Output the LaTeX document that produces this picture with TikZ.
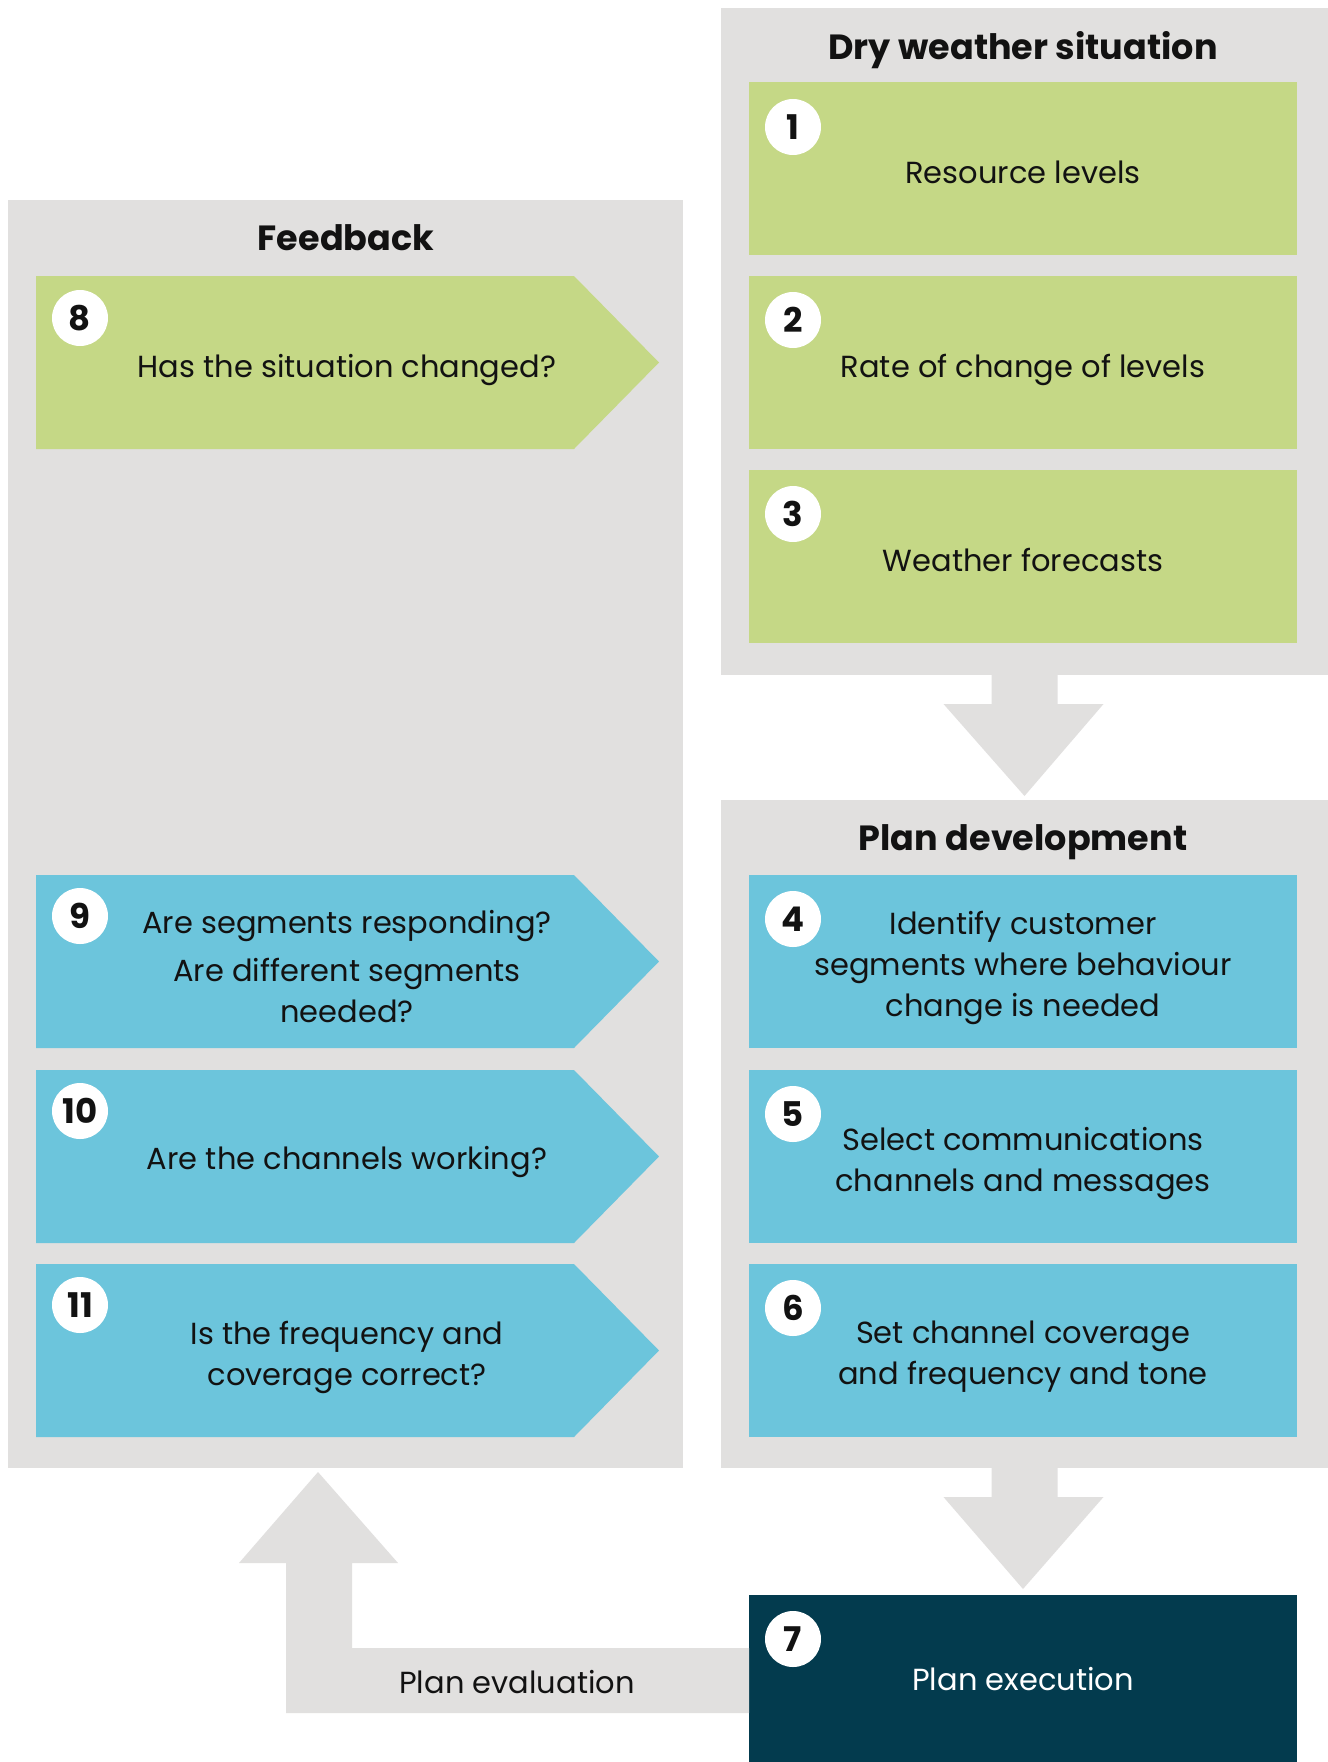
\documentclass[tikz,border=0pt]{standalone}
\usepackage{fontspec}
\setmainfont{Poppins}
\usetikzlibrary{calc}
\definecolor{panelgray}{HTML}{E1E0DF}
\definecolor{leafgreen}{HTML}{C5D886}
\definecolor{skyblue}{HTML}{6CC5DC}
\definecolor{deepteal}{HTML}{033B4E}
\definecolor{ink}{HTML}{121212}
\begin{document}
\begin{tikzpicture}[x=1pt,y=-1pt,
  panel/.style={fill=panelgray, draw=none, anchor=north west, inner sep=0pt, outer sep=0pt},
  rbox/.style={draw=none, anchor=north west, inner sep=0pt, outer sep=0pt, minimum width=548pt, minimum height=173pt},
  greenbox/.style={rbox, fill=leafgreen},
  bluebox/.style={rbox, fill=skyblue},
  darkbox/.style={rbox, fill=deepteal},
  numdot/.style={circle, fill=white, draw=none, minimum size=56pt, inner sep=0pt, font=\fontsize{34}{34}\selectfont\bfseries, text=ink},
  label/.style={align=center, text=ink, inner sep=0pt, text depth=0pt, font=\fontsize{30.5}{41}\selectfont},
  heading/.style={text=ink, inner sep=0pt, text depth=0pt, font=\fontsize{35}{40}\selectfont\bfseries},
  blockarrow/.style={fill=panelgray, draw=none}
]
\useasboundingbox (0,0) rectangle (1328,1762);
\fill[white] (0,0) rectangle (1328,1762);

% panels
\node[panel, minimum width=607pt, minimum height=667pt] (dry) at (721,8) {};
\node[panel, minimum width=607pt, minimum height=668pt] (plan) at (721,800) {};
\node[panel, minimum width=675pt, minimum height=1268pt] (fb) at (8,200) {};

\node[heading] (drytitle) at (1023,45) {Dry weather situation};
\node[heading] (plantitle) at (1023,838) {Plan development};
\node[heading] (fbtitle) at (346,238) {Feedback};

% right column boxes
\node[greenbox] (b1) at (749,82) {};
\node[greenbox] (b2) at (749,276) {};
\node[greenbox] (b3) at (749,470) {};
\node[bluebox] (b4) at (749,875) {};
\node[bluebox] (b5) at (749,1070) {};
\node[bluebox] (b6) at (749,1264) {};
\node[darkbox, minimum height=170pt] (b7) at (749,1595) {};

% feedback pentagons
\fill[leafgreen] (36,276) -- (574,276) -- (659,362.5) -- (574,449) -- (36,449) -- cycle;
\fill[skyblue] (36,875) -- (574,875) -- (659,961.5) -- (574,1048) -- (36,1048) -- cycle;
\fill[skyblue] (36,1070) -- (574,1070) -- (659,1156.5) -- (574,1243) -- (36,1243) -- cycle;
\fill[skyblue] (36,1264) -- (574,1264) -- (659,1350.5) -- (574,1437) -- (36,1437) -- cycle;

% block arrows
\fill[blockarrow] ($(dry.south)+(-33,0)$) -- ($(dry.south)+(33,0)$) -- ($(dry.south)+(33,29)$)
  -- ($(dry.south)+(79,29)$) -- ($(plan.north)+(0,-4)$) -- ($(dry.south)+(-81,29)$)
  -- ($(dry.south)+(-33,29)$) -- cycle;
\fill[blockarrow] ($(plan.south)+(-33,0)$) -- ($(plan.south)+(33,0)$) -- ($(plan.south)+(33,29)$)
  -- ($(plan.south)+(79,29)$) -- ($(b7.north)+(0,-6)$) -- ($(plan.south)+(-81,29)$)
  -- ($(plan.south)+(-33,29)$) -- cycle;
\coordinate (uptip) at (318,1472);
\fill[blockarrow] (b7.west |- 0,1648) -- (352,1648) -- (352,1563) -- (398,1563) -- (uptip)
  -- (239,1563) -- (286,1563) -- (286,1713) -- (b7.west |- 0,1713) -- cycle;

% numbers
\node[numdot] (n1) at (793,127) {1};
\node[numdot] (n2) at (793,320) {2};
\node[numdot] (n3) at (793,514) {3};
\node[numdot] (n4) at (793,919) {4};
\node[numdot] (n5) at (793,1114) {5};
\node[numdot] (n6) at (793,1308) {6};
\node[numdot] (n7) at (793,1639) {7};
\node[numdot] (n8) at (80,318) {8};
\node[numdot] (n9) at (80,916) {9};
\node[numdot] (n10) at (80,1111) {10};
\node[numdot] (n11) at (80,1305) {11};

% texts
\node[label] (t1) at (1023,172) {Resource levels};
\node[label] (t2) at (1023,366) {Rate of change of levels};
\node[label] (t3) at (1023,560) {Weather forecasts};
\node[label] (t4) at (1023,964) {Identify customer\\segments where behaviour\\change is needed};
\node[label] (t5) at (1023,1159) {Select communications\\channels and messages};
\node[label] (t6) at (1023,1353) {Set channel coverage\\and frequency and tone};
\node[label, text=white] (t7) at (1023,1679) {Plan execution};
\node[label] (t8) at (347,366) {Has the situation changed?};
\node[label] (t9) at (347,966) {Are segments responding?\\[7pt]Are different segments\\needed?};
\node[label] (t10) at (347,1158) {Are the channels working?};
\node[label] (t11) at (347,1353) {Is the frequency and\\coverage correct?};
\node[label] (tev) at (517,1682) {Plan evaluation};
\end{tikzpicture}
\end{document}
